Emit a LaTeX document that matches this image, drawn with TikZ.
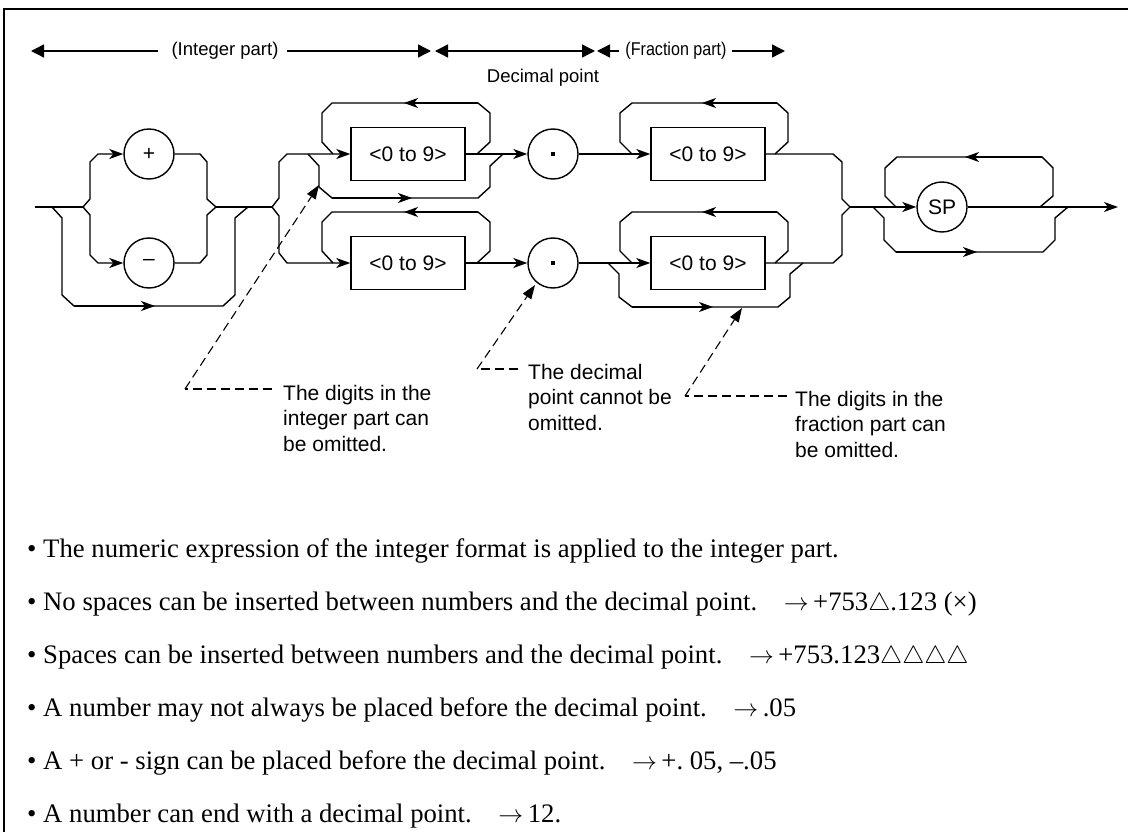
\documentclass[tikz,border=0pt]{standalone}
\usepackage{fontspec}
\setmainfont{Liberation Sans}
\newfontfamily\bodyserif{Liberation Serif}
\usetikzlibrary{arrows.meta}
\begin{document}
\begin{tikzpicture}[x=1pt,y=-1pt,
  rr/.style={line width=1.4pt, line join=miter},
  ar/.style={rr,-{Stealth[length=14pt,width=10pt,inset=4pt]}},
  hd/.style={line width=1.4pt,-{Triangle[length=13pt,width=13pt]}},
  lead/.style={line width=1.1pt,dash pattern=on 9pt off 5pt,-{Triangle[length=14pt,width=10pt]}},
  leadn/.style={line width=1.1pt,dash pattern=on 9pt off 5pt},
  circ/.style={circle,draw,line width=1.4pt,minimum size=50pt,inner sep=0pt,font=\fontsize{21}{21}\selectfont},
  digbox/.style={rectangle,draw,line width=1.4pt,minimum width=114pt,minimum height=53pt,inner sep=0pt,font=\fontsize{21}{21}\selectfont},
  hdtext/.style={inner sep=0pt,font=\fontsize{18.5}{18.5}\selectfont},
  note/.style={anchor=west,align=left,inner sep=0pt,font=\fontsize{21}{25.5}\selectfont},
  bl/.style={anchor=base west,inner sep=0pt,font=\bodyserif\fontsize{26.7}{30}\selectfont}
]
\useasboundingbox (0,0) rectangle (1128,832);
\draw[line width=1.8pt] (4,832) -- (4,9) -- (1128,9);

% header
\node[hdtext] (ip) at (225,51) {(Integer part)};
\node[hdtext] (fp) at (676,51) {\scalebox{0.87}[1]{(Fraction part)}};
\node[hdtext] (dp) at (543,78) {Decimal point};
\coordinate (h0) at (31,51);
\coordinate (h1) at (431,51);
\coordinate (h2) at (435,51);
\coordinate (h3) at (595,51);
\coordinate (h4) at (597,51);
\coordinate (h5) at (785,51);
\draw[hd] (158,51) -- (h0);
\draw[hd] (287,51) -- (h1);
\draw[hd] (515,51) -- (h2);
\draw[hd] (515,51) -- (h3);
\draw[hd] (619,51) -- (h4);
\draw[hd] (732,51) -- (h5);

% nodes
\node[circ] (plus) at (149,154) {+};
\node[circ] (minus) at (149,263) {\raisebox{1pt}{–}};
\node[digbox] (b1) at (408,154) {<0 to 9>};
\node[digbox] (b2) at (408,263) {<0 to 9>};
\node[circ] (d1) at (553,154) {\rule{4.5pt}{4.5pt}};
\node[circ] (d2) at (553,263) {\rule{4.5pt}{4.5pt}};
\node[digbox] (b3) at (708,154) {<0 to 9>};
\node[digbox] (b4) at (708,263) {<0 to 9>};
\node[circ] (sp) at (942,207) {SP};

\coordinate (s0) at (35,207);
\coordinate (jA) at (83,207);
\coordinate (jA2) at (216,207);
\coordinate (jB) at (272,207);
\coordinate (jD) at (850,207);
\coordinate (e) at (1118,207);

% section A
\draw[rr] (s0) -- (jA);
\draw[rr] (jA2) -- (jB);
\draw[rr] (52,207) -- (62,218) -- (62,295) -- (74,306) -- (223,306) -- (235,295) -- (235,218) -- (248,207);
\draw[ar] (74,306) -- (155,306);
\draw[ar] (jA) -- (90,199) -- (90,162) -- (98,154) -- (plus.west);
\draw[rr] (plus.east) -- (200,154) -- (207,162) -- (207,199) -- (jA2);
\draw[ar] (jA) -- (90,215) -- (90,255) -- (98,263) -- (minus.west);
\draw[rr] (minus.east) -- (200,263) -- (207,255) -- (207,215) -- (jA2);

% section B
\draw[ar] (jB) -- (279,198) -- (279,162) -- (287,154) -- (b1.west);
\draw[ar] (jB) -- (279,216) -- (279,253) -- (287,263) -- (b2.west);
\draw[ar] (b1.east) -- (d1.west);
\draw[ar] (b2.east) -- (d2.west);
\draw[rr] (477,154) -- (490,142) -- (490,113) -- (478,103) -- (332,103) -- (322,113) -- (322,142) -- (333,154);
\draw[ar] (478,103) -- (404,103);
\draw[rr] (308,154) -- (319,166) -- (319,187) -- (332,198) -- (478,198) -- (490,187) -- (490,166) -- (503,154);
\draw[ar] (332,198) -- (412,198);
\draw[rr] (477,263) -- (490,251) -- (490,222) -- (478,212) -- (332,212) -- (322,222) -- (322,251) -- (333,263);
\draw[ar] (478,212) -- (404,212);

% section C
\draw[ar] (d1.east) -- (b3.west);
\draw[ar] (d2.east) -- (b4.west);
\draw[rr] (775,154) -- (788,142) -- (788,113) -- (777,103) -- (632,103) -- (620,113) -- (620,142) -- (632,154);
\draw[ar] (777,103) -- (702,103);
\draw[rr] (775,263) -- (788,251) -- (788,222) -- (777,212) -- (632,212) -- (620,222) -- (620,251) -- (632,263);
\draw[ar] (777,212) -- (702,212);
\draw[rr] (608,263) -- (619,274) -- (619,297) -- (632,307) -- (778,307) -- (790,297) -- (790,274) -- (803,263);
\draw[ar] (632,307) -- (713,307);
\draw[rr] (b3.east) -- (833,154) -- (842,162) -- (842,199) -- (jD);
\draw[rr] (b4.east) -- (833,263) -- (842,255) -- (842,215) -- (jD);

% section D
\draw[ar] (jD) -- (sp.west);
\draw[ar] (sp.east) -- (e);
\draw[rr] (1040,207) -- (1053,196) -- (1053,168) -- (1042,157) -- (897,157) -- (885,168) -- (885,196) -- (896,207);
\draw[ar] (1042,157) -- (965,157);
\draw[rr] (873,207) -- (884,218) -- (884,240) -- (896,252) -- (1043,252) -- (1055,240) -- (1055,218) -- (1068,207);
\draw[ar] (896,252) -- (977,252);

% annotations
\node[note] (n1) at (283,418) {The digits in the\\integer part can\\be omitted.};
\node[note] (n2) at (528,397) {The decimal\\point cannot be\\omitted.};
\node[note] (n3) at (795,424) {The digits in the\\fraction part can\\be omitted.};
\coordinate (l1a) at (272,389);
\coordinate (l1b) at (185,389);
\coordinate (l1c) at (319,185);
\coordinate (l2a) at (518,369);
\coordinate (l2b) at (477,369);
\coordinate (l2c) at (535,285);
\coordinate (l3a) at (787,396);
\coordinate (l3b) at (685,396);
\coordinate (l3c) at (742,308);
\draw[leadn] (l1a) -- (l1b);
\draw[lead] (l1b) -- (l1c);
\draw[leadn] (l2a) -- (l2b);
\draw[lead] (l2b) -- (l2c);
\draw[leadn] (l3a) -- (l3b);
\draw[lead] (l3b) -- (l3c);

% bullets
\node[bl] (t1) at (27,557) {• The numeric expression of the integer format is applied to the integer part.};
\node[bl] (t2) at (27,610) {• No spaces can be inserted between numbers and the decimal point.\quad$\rightarrow$\,+753$\triangle$.123 (×)};
\node[bl] (t3) at (27,663) {• Spaces can be inserted between numbers and the decimal point.\quad$\rightarrow$\,+753.123$\triangle\triangle\triangle\triangle$};
\node[bl] (t4) at (27,716) {• A number may not always be placed before the decimal point.\quad$\rightarrow$\,.05};
\node[bl] (t5) at (27,769) {• A + or - sign can be placed before the decimal point.\quad$\rightarrow$\,+.\ 05, –.05};
\node[bl] (t6) at (27,822) {• A number can end with a decimal point.\quad$\rightarrow$\,12.};
\end{tikzpicture}
\end{document}
